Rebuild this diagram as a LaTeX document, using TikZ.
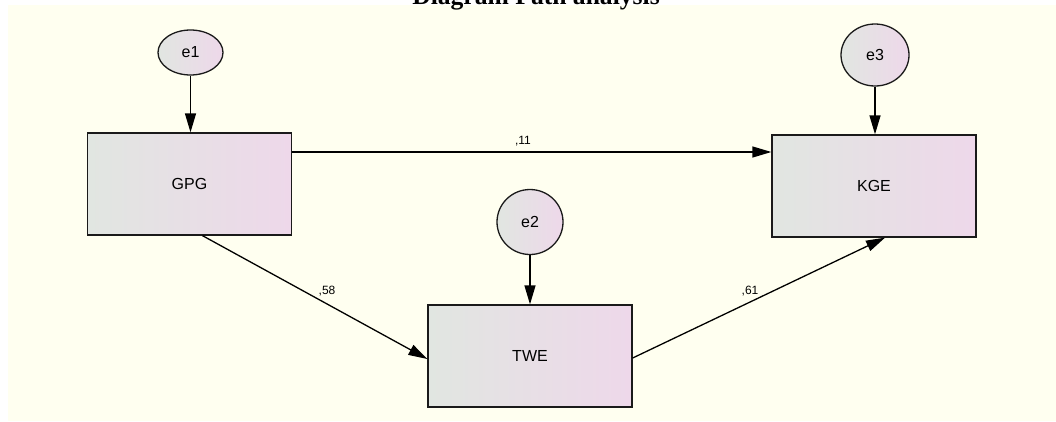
\documentclass[tikz,border=0pt]{standalone}
\usepackage{fontspec}
\setmainfont{Liberation Serif}
\setsansfont{Liberation Sans}
\usetikzlibrary{arrows.meta,calc,shapes.geometric}
\definecolor{bgivory}{HTML}{FFFFF0}
\definecolor{shadeL}{HTML}{E1E6E1}
\definecolor{shadeR}{HTML}{EED8EA}
\definecolor{edgecol}{HTML}{1A1A1A}
\begin{document}
\begin{tikzpicture}[x=1pt,y=-1pt]
\tikzset{
  varbox/.style={rectangle, draw=edgecol, line width=1.3pt, left color=shadeL, right color=shadeR,
    minimum width=204pt, minimum height=102pt, inner sep=0pt,
    font=\sffamily\fontsize{16}{18}\selectfont},
  errnode/.style={ellipse, draw=edgecol, line width=1.3pt, left color=shadeL, right color=shadeR,
    inner sep=0pt, font=\sffamily\fontsize{16}{18}\selectfont},
  regarrow/.style={-{Triangle[length=19pt,width=11pt]}, line width=1.3pt, draw=black},
  coef/.style={font=\sffamily\fontsize{12}{14}\selectfont, anchor=base, inner sep=0pt}
}
\useasboundingbox (0,0) rectangle (1056,421);
\fill[bgivory] (8,5) rectangle (1056,421);
\node[font=\bfseries\fontsize{25.6}{28}\selectfont, anchor=base, inner sep=0pt] (title) at (536,4) {Diagram Path analysis};

\node[varbox] (GPG) at (189.5,184) {GPG};
\node[varbox] (TWE) at (530,356) {TWE};
\node[varbox] (KGE) at (874,186) {KGE};

\node[errnode, minimum width=65pt, minimum height=45pt] (e1) at (190.5,52.5) {e1};
\node[errnode, minimum width=66pt, minimum height=65pt] (e2) at (530,222) {e2};
\node[errnode, minimum width=68pt, minimum height=62pt] (e3) at (875,55) {e3};

\draw[regarrow] (e1.south) -- (e1.south |- GPG.north);
\draw[regarrow] (e2.south) -- (e2.south |- TWE.north);
\draw[regarrow] (e3.south) -- (e3.south |- KGE.north);
\draw[regarrow] ([yshift=32pt]GPG.east) -- ([yshift=34pt]KGE.west);
\draw[regarrow] ([xshift=13pt]GPG.south) -- ([yshift=-3pt]TWE.west);
\draw[regarrow] ([yshift=-2pt]TWE.east) -- ([xshift=11pt]KGE.south);

\node[coef] (c11) at (523,144) {,11};
\node[coef] (c58) at (327,294) {,58};
\node[coef] (c61) at (750,294) {,61};
\end{tikzpicture}
\end{document}
